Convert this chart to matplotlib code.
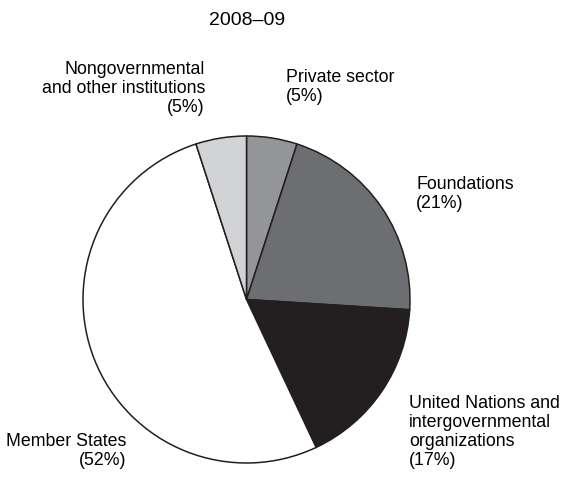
import matplotlib.pyplot as plt

plt.rcParams['font.family'] = ['Liberation Sans', 'DejaVu Sans']

labels = ["Private sector", "Foundations",
          "United Nations and\nintergovernmental\norganizations",
          "Member States", "Nongovernmental\nand other institutions"]
shares = [5, 21, 17, 52, 5]
colors = ["#939598", "#6d6e71", "#231f20", "#ffffff", "#d1d3d4"]

W, H = 563, 478
fig = plt.figure(figsize=(W / 100, H / 100), dpi=100)
ax = fig.add_axes([0, 0, 1, 1])

ax.pie(shares, colors=colors, startangle=90, counterclock=False,
       center=(246.5, H - 299.5), radius=163.5, frame=True,
       wedgeprops=dict(edgecolor="#231f20", linewidth=1.1))
ax.set_xlim(0, W)
ax.set_ylim(0, H)
ax.set_aspect('equal')
ax.axis('off')

fs = 12.8
ls = 1.16
ax.text(247, H - 20, "2008–09", ha='center', va='center', fontsize=14)
ax.text(205, H - 61, labels[4] + "\n(5%)", ha='right', va='top',
        fontsize=fs, multialignment='right', linespacing=ls)
ax.text(286, H - 69, labels[0] + "\n(5%)", ha='left', va='top',
        fontsize=fs, linespacing=ls)
ax.text(416, H - 176, labels[1] + "\n(21%)", ha='left', va='top',
        fontsize=fs, linespacing=ls)
ax.text(409, H - 395, labels[2] + "\n(17%)", ha='left', va='top',
        fontsize=fs, linespacing=ls)
ax.text(126, H - 433, labels[3] + "\n(52%)", ha='right', va='top',
        fontsize=fs, multialignment='right', linespacing=ls)

fig.savefig("out.png", dpi=100)
